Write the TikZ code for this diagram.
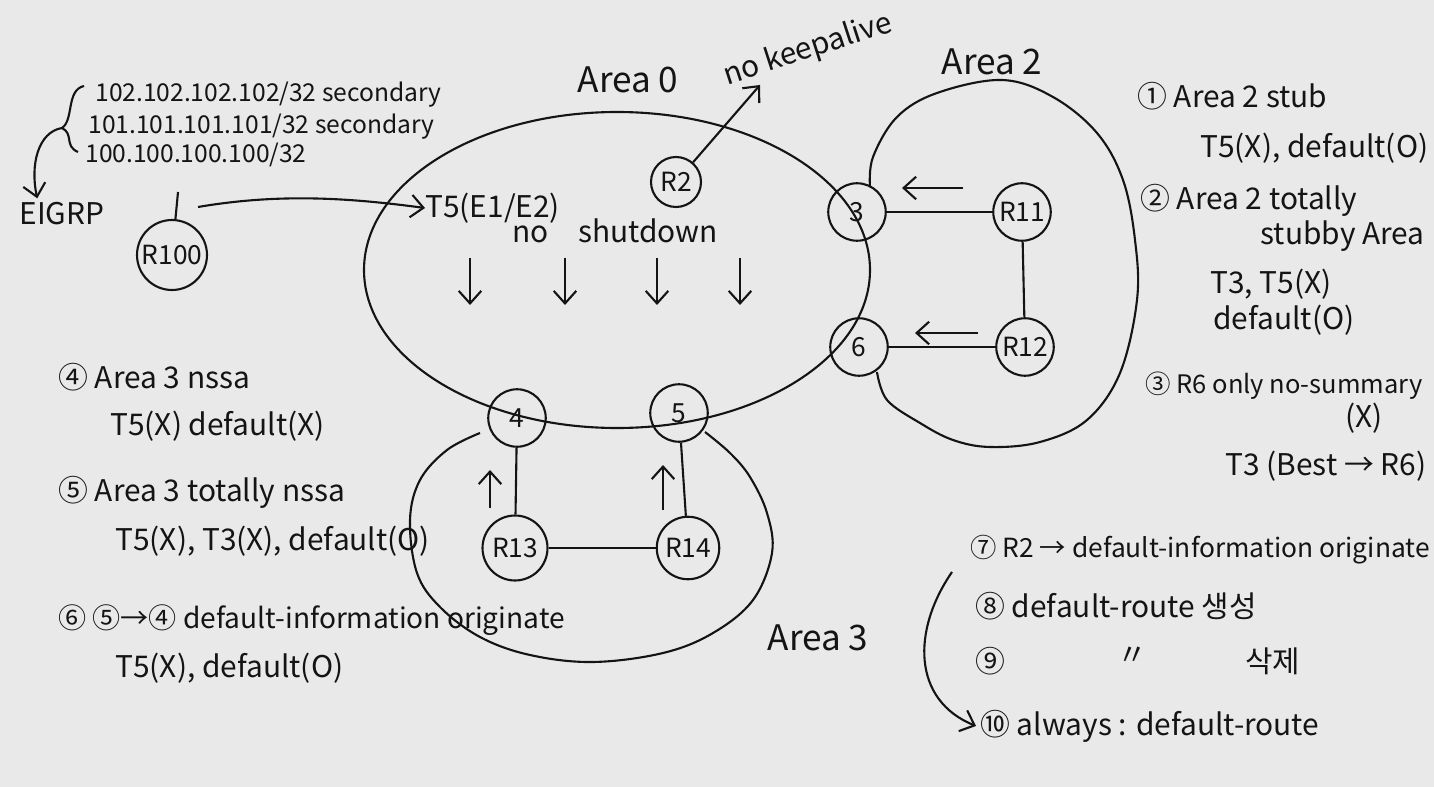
\documentclass[tikz,border=0pt]{standalone}
\usepackage{fontspec}
\setmainfont{Noto Sans CJK KR}
\usetikzlibrary{positioning, arrows.meta, calc}
\definecolor{boardcolor}{RGB}{233,233,233}
\definecolor{inkcolor}{RGB}{20,20,20}

\begin{document}
\begin{tikzpicture}[
    x=0.02cm, y=-0.02cm,
    ink/.style={draw=inkcolor, line width=1.2pt},
    arrow/.style={ink, -{Straight Barb[length=2.5mm, width=4.5mm]}},
    router/.style={
        circle,
        ink,
        minimum size=1.15cm,
        inner sep=0pt,
        text=inkcolor,
        font=\fontsize{15}{18}\selectfont
    },
    note/.style={anchor=west, inner sep=0pt, text=inkcolor, font=\fontsize{17}{20}\selectfont},
    small note/.style={note, font=\fontsize{14}{17}\selectfont},
    area label/.style={inner sep=0pt, text=inkcolor, font=\fontsize{20}{24}\selectfont}
]

% Board
\fill [boardcolor] (0,0) rectangle (1434,787);
\useasboundingbox (0,0) rectangle (1434,787);

%% AREA 0 %%
\draw [ink] (617,270) ellipse [x radius=253, y radius=158];
\node (area0_label) [area label] at (628,80) {Area 0};

\node (r2) [router, minimum size=1.0cm] at (676,182) {R2};
\coordinate (keepalive_tip) at (760,85);
\node (keepalive) [note, anchor=center, rotate=18] at (808,50) {no keepalive};
\draw [arrow] (r2) -- (keepalive_tip);

\node (t5) [note] at (425,208) {T5(E1/E2)};
\node (noshut) [note, anchor=center] at (615,231) {no\quad shutdown};

\foreach \x in {470,565,657,740}
    \draw [arrow] (\x,258) -- (\x,305);

%% R100 and EIGRP side %%
\node (r100) [router, minimum size=1.4cm] at (172,255) {R100};
\coordinate (r100_top) at (178,192);
\draw [ink] (r100) -- (r100_top);
\coordinate (ospf_src) at (198,207);
\draw [arrow] (ospf_src) .. controls (280,193) and (350,198) .. (t5.west);

\node (ip102) [small note] at (95,95) {102.102.102.102/32 secondary};
\node (ip101) [small note] at (88,127) {101.101.101.101/32 secondary};
\node (ip100) [small note] at (85,155) {100.100.100.100/32};
\node (eigrp) [note, anchor=center] at (62,214) {EIGRP};

\coordinate (brace_tip) at (62,128);
\draw [ink] (84,86) .. controls (66,90) and (74,120) .. (brace_tip)
    .. controls (74,134) and (64,146) .. (78,152);
\draw [arrow] (brace_tip) .. controls (38,132) and (30,165) .. ($(eigrp.north west)+(18,-4)$);

%% AREA 2 %%
\node (n3) [router] at (857,212) {3};
\node (n6) [router] at (859,347) {6};
\node (r11) [router] at (1022,212) {R11};
\node (r12) [router] at (1025,347) {R12};

\draw [ink] (n3) -- (r11);
\draw [ink] (r11) -- (r12);
\draw [ink] (n6) -- (r12);
\draw [arrow] (963,188) -- (902,188);
\draw [arrow] (978,333) -- (915,333);

\draw [ink] plot [smooth, tension=0.6] coordinates {
    (870,187) (873,157) (897,117) (937,93) (1002,80) (1053,97) (1097,133)
    (1123,180) (1135,240) (1137,300) (1120,373) (1087,420) (1040,442)
    (990,447) (953,440) (920,423) (887,400) (877,372)};
\node (area2_label) [area label] at (992,62) {Area 2};

%% AREA 3 %%
\node (n4) [router] at (517,418) {4};
\node (n5) [router] at (679,413) {5};
\node (r13) [router, minimum size=1.3cm] at (515,548) {R13};
\node (r14) [router, minimum size=1.25cm] at (688,548) {R14};

\draw [ink] (n4) -- (r13);
\draw [ink] (n5) -- (r14);
\draw [ink] (r13) -- (r14);
\draw [arrow] (490,508) -- (490,470);
\draw [arrow] (663,510) -- (663,465);

\draw [ink] plot [smooth, tension=0.6] coordinates {
    (480,433) (447,450) (420,480) (410,520) (417,573) (440,607) (480,637)
    (530,655) (593,662) (663,653) (713,633) (753,600) (772,553) (767,513)
    (750,477) (730,453) (705,432)};
\node (area3_label) [area label] at (818,638) {Area 3};

%% NOTES - bottom left %%
\node (note4) [note] at (58,377) {④ Area 3 nssa};
\node (note4b) [note] at (110,426) {T5(X) default(X)};
\node (note5) [note] at (58,492) {⑤ Area 3 totally nssa};
\node (note5b) [note] at (115,541) {T5(X), T3(X), default(O)};
\node (note6) [note, font=\fontsize{16}{19}\selectfont] at (58,620) {⑥ ⑤→④ default-information originate};
\node (note6b) [note] at (115,668) {T5(X), default(O)};

%% NOTES - right %%
\node (note1) [note] at (1137,96) {① Area 2 stub};
\node (note1b) [note] at (1200,148) {T5(X), default(O)};
\node (note2) [note] at (1140,200) {② Area 2 totally};
\node (note2a) [note, anchor=east] at (1425,236) {stubby Area};
\node (note2b) [note] at (1210,284) {T3, T5(X)};
\node (note2c) [note] at (1213,320) {default(O)};
\node (note3) [note, font=\fontsize{14.5}{17}\selectfont] at (1145,386) {③ R6 only no-summary};
\node (note3a) [note] at (1345,418) {(X)};
\node (note3b) [note] at (1225,466) {T3 (Best → R6)};

%% NOTES - bottom right %%
\node (note7) [note, font=\fontsize{15}{18}\selectfont] at (970,550) {⑦ R2 → default-information originate};
\node (note8) [note] at (975,606) {⑧ default-route 생성};
\node (note9) [note] at (975,661) {⑨};
\node (note9a) [note, anchor=center] at (1132,656) {〃};
\node (note9b) [note] at (1245,661) {삭제};
\node (note10) [note] at (980,726) {⑩ always : default-route};

\coordinate (bracket_top) at (952,572);
\draw [arrow] (bracket_top) .. controls (912,630) and (912,700) .. ($(note10.west)+(-4,0)$);

\end{tikzpicture}
\end{document}
